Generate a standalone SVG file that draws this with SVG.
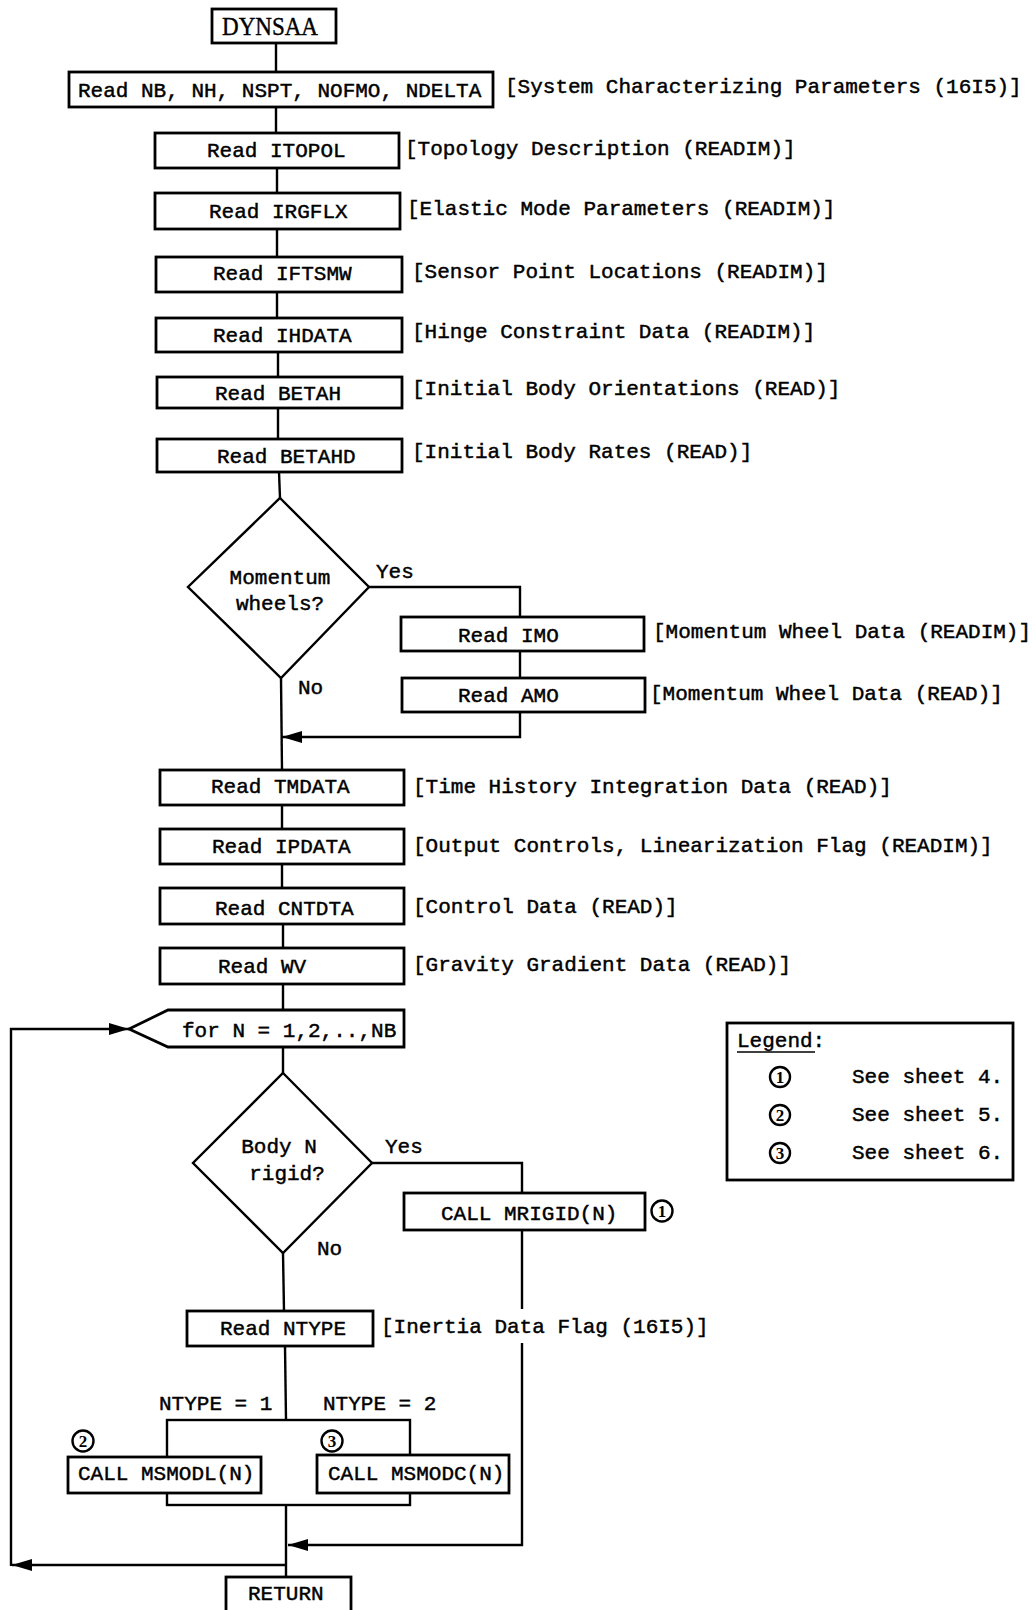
<svg xmlns="http://www.w3.org/2000/svg" width="1036" height="1610" viewBox="0 0 1036 1610">
<style>
.bg{fill:#fff}
.box{fill:#fff;stroke:#000;stroke-width:2.8}
.dia{fill:#fff;stroke:#000;stroke-width:2.4}
.ln{fill:none;stroke:#000;stroke-width:2.4}
.t{font-family:"Liberation Mono","Courier New",monospace;font-size:21px;fill:#000;stroke:#000;stroke-width:0.45}
.title{font-family:"Liberation Serif","Times New Roman",serif;font-size:25px;fill:#000;stroke:#000;stroke-width:0.4}
.circ{fill:#fff;stroke:#000;stroke-width:2.4}
.cn{font-family:"Liberation Serif","Times New Roman",serif;font-size:17px;font-weight:bold;fill:#000;text-anchor:middle}
</style>
<defs>
<marker id="arr" markerWidth="20" markerHeight="12" refX="20" refY="6" orient="auto" markerUnits="userSpaceOnUse">
<path d="M0,0 L20,6 L0,12 z" fill="#000"/>
</marker>
</defs>
<rect class="bg" x="0" y="0" width="1036" height="1610"/>

<g id="connectors">
<line class="ln" x1="276" y1="43" x2="276" y2="72"/>
<line class="ln" x1="276" y1="107" x2="276" y2="133"/>
<line class="ln" x1="277" y1="168" x2="277" y2="193"/>
<line class="ln" x1="277" y1="229" x2="277" y2="257"/>
<line class="ln" x1="277" y1="292" x2="277" y2="318"/>
<line class="ln" x1="278" y1="352" x2="278" y2="377"/>
<line class="ln" x1="278" y1="408" x2="278" y2="439"/>
<line class="ln" x1="279" y1="472" x2="280" y2="498"/>
<polyline class="ln" points="369,587 520,587 520,617"/>
<line class="ln" x1="520" y1="651" x2="520" y2="678"/>
<path class="ln" d="M520,712 L520,737 L282,737" marker-end="url(#arr)"/>
<line class="ln" x1="281" y1="678" x2="282" y2="770"/>
<line class="ln" x1="282" y1="805" x2="282" y2="829"/>
<line class="ln" x1="282" y1="864" x2="282" y2="888"/>
<line class="ln" x1="283" y1="924" x2="283" y2="948"/>
<line class="ln" x1="283" y1="984" x2="283" y2="1010"/>
<line class="ln" x1="283" y1="1047" x2="283" y2="1073"/>
<polyline class="ln" points="372,1163 522,1163 522,1193"/>
<line class="ln" x1="522" y1="1230" x2="522" y2="1309"/>
<path class="ln" d="M522,1343 L522,1545 L288,1545" marker-end="url(#arr)"/>
<line class="ln" x1="283" y1="1253" x2="284" y2="1311"/>
<line class="ln" x1="285" y1="1346" x2="286" y2="1420"/>
<rect class="ln" x="167" y="1420" width="243" height="85"/>
<line class="ln" x1="286" y1="1505" x2="286" y2="1577"/>
<path class="ln" d="M286,1565 L12,1565" marker-end="url(#arr)"/>
<path class="ln" d="M11,1566 L11,1029 L129,1029" marker-end="url(#arr)"/>
</g>

<g id="dynsaa">
<rect class="box" x="212" y="9" width="124" height="34"/>
<text class="title" x="222" y="35" textLength="96" lengthAdjust="spacingAndGlyphs">DYNSAA</text>
</g>

<g id="read-nb">
<rect class="box" x="69" y="72" width="424" height="35"/>
<text class="t" x="78" y="97">Read NB, NH, NSPT, NOFMO, NDELTA</text>
<text class="t" x="505" y="93">[System Characterizing Parameters (16I5)]</text>
</g>

<g id="read-itopol">
<rect class="box" x="155" y="133" width="244" height="35"/>
<text class="t" x="207" y="157">Read ITOPOL</text>
<text class="t" x="405" y="155">[Topology Description (READIM)]</text>
</g>

<g id="read-irgflx">
<rect class="box" x="155" y="193" width="245" height="36"/>
<text class="t" x="209" y="218">Read IRGFLX</text>
<text class="t" x="407" y="215">[Elastic Mode Parameters (READIM)]</text>
</g>

<g id="read-iftsmw">
<rect class="box" x="156" y="257" width="246" height="35"/>
<text class="t" x="213" y="280">Read IFTSMW</text>
<text class="t" x="412" y="278">[Sensor Point Locations (READIM)]</text>
</g>

<g id="read-ihdata">
<rect class="box" x="156" y="318" width="246" height="34"/>
<text class="t" x="213" y="342">Read IHDATA</text>
<text class="t" x="412" y="338">[Hinge Constraint Data (READIM)]</text>
</g>

<g id="read-betah">
<rect class="box" x="157" y="377" width="245" height="31"/>
<text class="t" x="215" y="400">Read BETAH</text>
<text class="t" x="412" y="395">[Initial Body Orientations (READ)]</text>
</g>

<g id="read-betahd">
<rect class="box" x="157" y="439" width="245" height="33"/>
<text class="t" x="217" y="463">Read BETAHD</text>
<text class="t" x="412" y="458">[Initial Body Rates (READ)]</text>
</g>

<g id="momentum-decision">
<polygon class="dia" points="280,498 369,587 281,678 188,587"/>
<text class="t" x="280" y="584" text-anchor="middle">Momentum</text>
<text class="t" x="280" y="610" text-anchor="middle">wheels?</text>
<text class="t" x="376" y="578">Yes</text>
<text class="t" x="298" y="694">No</text>
</g>

<g id="read-imo">
<rect class="box" x="401" y="617" width="243" height="34"/>
<text class="t" x="458" y="642">Read IMO</text>
<text class="t" x="653" y="638">[Momentum Wheel Data (READIM)]</text>
</g>

<g id="read-amo">
<rect class="box" x="402" y="678" width="243" height="34"/>
<text class="t" x="458" y="702">Read AMO</text>
<text class="t" x="650" y="700">[Momentum Wheel Data (READ)]</text>
</g>

<g id="read-tmdata">
<rect class="box" x="160" y="770" width="244" height="35"/>
<text class="t" x="211" y="793">Read TMDATA</text>
<text class="t" x="413" y="793">[Time History Integration Data (READ)]</text>
</g>

<g id="read-ipdata">
<rect class="box" x="160" y="829" width="244" height="35"/>
<text class="t" x="212" y="853">Read IPDATA</text>
<text class="t" x="413" y="852">[Output Controls, Linearization Flag (READIM)]</text>
</g>

<g id="read-cntdta">
<rect class="box" x="160" y="888" width="244" height="36"/>
<text class="t" x="215" y="915">Read CNTDTA</text>
<text class="t" x="413" y="913">[Control Data (READ)]</text>
</g>

<g id="read-wv">
<rect class="box" x="160" y="948" width="244" height="36"/>
<text class="t" x="218" y="973">Read WV</text>
<text class="t" x="413" y="971">[Gravity Gradient Data (READ)]</text>
</g>

<g id="loop">
<polygon class="box" points="129,1029 168,1010 404,1010 404,1047 168,1047"/>
<text class="t" x="182" y="1037">for N = 1,2,..,NB</text>
</g>

<g id="rigid-decision">
<polygon class="dia" points="283,1073 372,1163 283,1253 193,1163"/>
<text class="t" x="279" y="1153" text-anchor="middle">Body N</text>
<text class="t" x="287" y="1180" text-anchor="middle">rigid?</text>
<text class="t" x="385" y="1153">Yes</text>
<text class="t" x="317" y="1255">No</text>
</g>

<g id="call-mrigid">
<rect class="box" x="404" y="1193" width="241" height="37"/>
<text class="t" x="441" y="1220">CALL MRIGID(N)</text>
<circle class="circ" cx="662" cy="1211" r="10.5"/>
<text class="cn" x="662" y="1217">1</text>
</g>

<g id="read-ntype">
<rect class="box" x="187" y="1311" width="186" height="35"/>
<text class="t" x="220" y="1335">Read NTYPE</text>
<text class="t" x="381" y="1333">[Inertia Data Flag (16I5)]</text>
</g>

<g id="branch-labels">
<text class="t" x="159" y="1410">NTYPE = 1</text>
<text class="t" x="323" y="1410">NTYPE = 2</text>
</g>

<g id="call-msmodl">
<rect class="box" x="68" y="1457" width="193" height="36"/>
<text class="t" x="78" y="1480">CALL MSMODL(N)</text>
<circle class="circ" cx="83" cy="1441" r="10.5"/>
<text class="cn" x="83" y="1447">2</text>
</g>

<g id="call-msmodc">
<rect class="box" x="317" y="1455" width="192" height="38"/>
<text class="t" x="328" y="1480">CALL MSMODC(N)</text>
<circle class="circ" cx="332" cy="1441" r="10.5"/>
<text class="cn" x="332" y="1447">3</text>
</g>

<g id="return">
<rect class="box" x="226" y="1577" width="125" height="40"/>
<text class="t" x="248" y="1600">RETURN</text>
</g>

<g id="legend">
<rect class="box" x="727" y="1023" width="286" height="157"/>
<text class="t" x="737" y="1047">Legend:</text>
<line x1="737" y1="1052" x2="815" y2="1052" stroke="#000" stroke-width="1.6"/>
<circle class="circ" cx="780" cy="1077" r="10"/>
<text class="cn" x="780" y="1083">1</text>
<text class="t" x="852" y="1083">See sheet 4.</text>
<circle class="circ" cx="780" cy="1115" r="10"/>
<text class="cn" x="780" y="1121">2</text>
<text class="t" x="852" y="1121">See sheet 5.</text>
<circle class="circ" cx="780" cy="1153" r="10"/>
<text class="cn" x="780" y="1159">3</text>
<text class="t" x="852" y="1159">See sheet 6.</text>
</g>
</svg>
